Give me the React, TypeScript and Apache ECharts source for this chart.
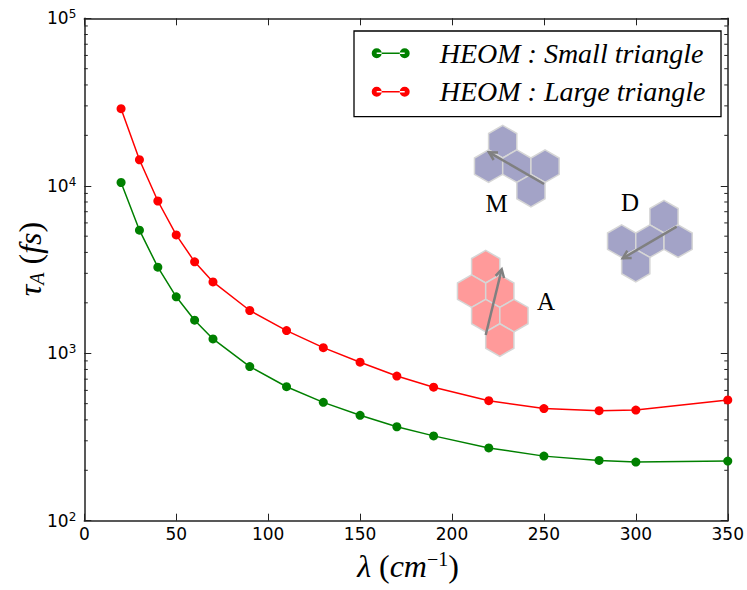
import React, { useEffect, useRef } from "react";
import * as echarts from "echarts";

// ---- data ----
const lambdaValues = [20, 30, 40, 50, 60, 70, 90, 110, 130, 150, 170, 190, 220, 250, 280, 300, 350];
const smallTriangle = [10460, 5430, 3265, 2172, 1575, 1217, 832, 631, 509, 426, 364, 321, 272, 243, 229, 224, 227];
const largeTriangle = [28850, 14300, 8110, 5090, 3515, 2667, 1800, 1365, 1080, 884, 731, 627, 521, 467, 454, 458, 526];
const seriesNames = ["HEOM : Small triangle", "HEOM : Large triangle"];
const seriesColors = ["#008000", "#ff0000"];
const minorMultipliers = [2, 3, 4, 5, 6, 7, 8, 9];
const minorDecades = [100, 1000, 10000];
const xMin = 0;
const xMax = 350;
const xInterval = 50;
const yMin = 100;
const yMax = 100000;

// ---- decoration (hexagon clusters) ----
const HEX_R = 16.3;
const HEX_W = HEX_R * Math.sqrt(3);
const HEX_ROW = 1.5 * HEX_R;
const clusters = [
  { origin: [502.7, 141.7], cells: [[0, 0], [-0.5, 1], [0.5, 1], [1.5, 1], [1, 2]], fill: "#a3a3c7" },
  { origin: [664, 216.7], cells: [[0, 0], [-1.5, 1], [-0.5, 1], [0.5, 1], [-1, 2]], fill: "#a3a3c7" },
  { origin: [485.7, 266.7], cells: [[0, 0], [-0.5, 1], [0.5, 1], [0, 2], [1, 2], [0.5, 3]], fill: "#ff9a9a" },
];
const arrows = [
  [544, 184, 489, 152.3],
  [676.7, 226.7, 622.7, 258.3],
  [485.7, 335, 501.7, 269.3],
];
const clusterLabels = [
  { text: "M", x: 496.7, y: 203 },
  { text: "D", x: 630, y: 202.7 },
  { text: "A", x: 546, y: 301.7 },
];

function hexPoints(cx: number, cy: number) {
  const pts: number[][] = [];
  for (let i = 0; i < 6; i++) {
    const a = ((-90 + 60 * i) * Math.PI) / 180;
    pts.push([cx + HEX_R * Math.cos(a), cy + HEX_R * Math.sin(a)]);
  }
  return pts;
}

function arrowElements(x1: number, y1: number, x2: number, y2: number) {
  const ang = Math.atan2(y2 - y1, x2 - x1);
  const L = 9;
  const s = 0.5;
  const p1 = [x2 - L * Math.cos(ang - s), y2 - L * Math.sin(ang - s)];
  const p2 = [x2 - L * Math.cos(ang + s), y2 - L * Math.sin(ang + s)];
  const st = { stroke: "#808080", lineWidth: 2.5, fill: null as any };
  return [
    { type: "line", shape: { x1, y1, x2, y2 }, style: st, z: 10 },
    { type: "polyline", shape: { points: [p1, [x2, y2], p2] }, style: st, z: 10 },
  ];
}

const SERIF = "Liberation Serif";
const SANS = "DejaVu Sans";
const AXIS_COLOR = "#222";

export default function App() {
  const ref = useRef<HTMLDivElement>(null);

  useEffect(() => {
    if (!ref.current) return;
    const chart = echarts.init(ref.current, undefined, { renderer: "svg" });

    const graphics: any[] = [];
    clusters.forEach((c) => {
      c.cells.forEach(([col, row]) => {
        const cx = c.origin[0] + col * HEX_W;
        const cy = c.origin[1] + row * HEX_ROW;
        graphics.push({
          type: "polygon",
          shape: { points: hexPoints(cx, cy) },
          style: { fill: c.fill, stroke: "#d6d6d6", lineWidth: 1.5 },
          z: 5,
        });
      });
    });
    arrows.forEach(([a, b, c, d]) => graphics.push(...arrowElements(a, b, c, d)));
    clusterLabels.forEach((l) =>
      graphics.push({
        type: "text",
        x: l.x,
        y: l.y,
        style: {
          text: l.text,
          fontFamily: SERIF,
          fontSize: 25,
          fill: "#000",
          align: "center",
          verticalAlign: "middle",
        },
        z: 10,
      })
    );
    // axis titles
    graphics.push({
      type: "text",
      x: 408,
      y: 566,
      style: {
        text: "{i|λ}{n| (}{i|cm}{sup|−1}{n|)}",
        align: "center",
        verticalAlign: "middle",
        rich: {
          i: { fontFamily: SERIF, fontStyle: "italic", fontSize: 32, lineHeight: 34, fill: "#000" },
          n: { fontFamily: SERIF, fontSize: 32, lineHeight: 34, fill: "#000" },
          sup: { fontFamily: SERIF, fontSize: 20, lineHeight: 22, verticalAlign: "top", fill: "#000" },
        },
      },
    });
    graphics.push({
      type: "text",
      x: 30,
      y: 259,
      rotation: Math.PI / 2,
      style: {
        text: "{i|τ}{s|A}{n| (}{i|fs}{n|)}",
        align: "center",
        verticalAlign: "middle",
        rich: {
          i: { fontFamily: SERIF, fontStyle: "italic", fontSize: 32, lineHeight: 34, fill: "#000" },
          n: { fontFamily: SERIF, fontSize: 32, lineHeight: 34, fill: "#000" },
          s: { fontFamily: SERIF, fontStyle: "italic", fontSize: 20, lineHeight: 16, verticalAlign: "bottom", fill: "#000" },
        },
      },
    });

    const minorValues: number[][] = [];
    minorDecades.forEach((d) => minorMultipliers.forEach((m) => minorValues.push([0, m * d])));

    const axisLine = { show: true, onZero: false, lineStyle: { color: AXIS_COLOR, width: 1.5 } };
    const axisTick = { show: true, inside: true, length: 7, lineStyle: { color: AXIS_COLOR, width: 1 } };

    const legendIcon =
      "path://M0,5a5,5 0 1,0 10,0a5,5 0 1,0 -10,0ZM5,4.2L33,4.2L33,5.8L5,5.8ZM28,5a5,5 0 1,0 10,0a5,5 0 1,0 -10,0Z";

    chart.setOption({
      animation: false,
      backgroundColor: "#fff",
      grid: { left: 84.3, right: 14.7, top: 18.3, bottom: 69.3, containLabel: false },
      legend: {
        orient: "vertical",
        left: 354,
        top: 31,
        padding: [8.3, 11.3, 11, 17.7],
        itemGap: 10.4,
        itemWidth: 38,
        itemHeight: 10,
        backgroundColor: "#fff",
        borderColor: "#000",
        borderWidth: 1.3,
        borderRadius: 0,
        z: 20,
        data: seriesNames.map((n) => ({ name: n, icon: legendIcon })),
        textStyle: {
          fontFamily: SERIF,
          fontStyle: "italic",
          fontSize: 28,
          lineHeight: 28,
          color: "#000",
          width: 270,
          padding: [0, 0, 0, 25],
        },
      },
      xAxis: [
        {
          type: "value",
          min: xMin,
          max: xMax,
          interval: xInterval,
          position: "bottom",
          axisLine,
          axisTick,
          splitLine: { show: false },
          axisLabel: { fontFamily: SANS, fontSize: 17, color: "#000", margin: 5 },
        },
        {
          type: "value",
          min: xMin,
          max: xMax,
          interval: xInterval,
          position: "top",
          axisLine,
          axisTick,
          splitLine: { show: false },
          axisLabel: { show: false },
        },
      ],
      yAxis: [
        {
          type: "log",
          logBase: 10,
          min: yMin,
          max: yMax,
          position: "left",
          axisLine,
          axisTick,
          splitLine: { show: false },
          axisLabel: {
            margin: 8,
            formatter: (v: number) => `{b|10}{s|${Math.round(Math.log10(v))}}`,
            rich: {
              b: { fontFamily: SANS, fontSize: 17, lineHeight: 20, color: "#000" },
              s: { fontFamily: SANS, fontSize: 12, lineHeight: 8, verticalAlign: "top", color: "#000" },
            },
          },
        },
        {
          type: "log",
          logBase: 10,
          min: yMin,
          max: yMax,
          position: "right",
          axisLine,
          axisTick,
          splitLine: { show: false },
          axisLabel: { show: false },
        },
      ],
      graphic: graphics,
      series: [
        {
          type: "custom",
          name: "minorTicks",
          xAxisIndex: 0,
          yAxisIndex: 0,
          silent: true,
          clip: false,
          data: minorValues,
          renderItem: (params: any, api: any) => {
            const pt = api.coord([0, api.value(1)]);
            const cs = params.coordSys;
            const st = { stroke: AXIS_COLOR, lineWidth: 1 };
            return {
              type: "group",
              children: [
                { type: "line", shape: { x1: cs.x, y1: pt[1], x2: cs.x + 3.5, y2: pt[1] }, style: st },
                { type: "line", shape: { x1: cs.x + cs.width - 3.5, y1: pt[1], x2: cs.x + cs.width, y2: pt[1] }, style: st },
              ],
            };
          },
        },
        ...[smallTriangle, largeTriangle].map((vals, si) => ({
          type: "line",
          name: seriesNames[si],
          xAxisIndex: 0,
          yAxisIndex: 0,
          data: lambdaValues.map((x, i) => [x, vals[i]]),
          symbol: "circle",
          symbolSize: 9,
          showSymbol: true,
          smooth: false,
          color: seriesColors[si],
          lineStyle: { color: seriesColors[si], width: 1.5 },
          itemStyle: { color: seriesColors[si] },
          z: 3,
        })),
      ],
    });

    return () => chart.dispose();
  }, []);

  return <div ref={ref} style={{ width: 747, height: 590, position: "absolute", left: 0, top: 0 }} />;
}
